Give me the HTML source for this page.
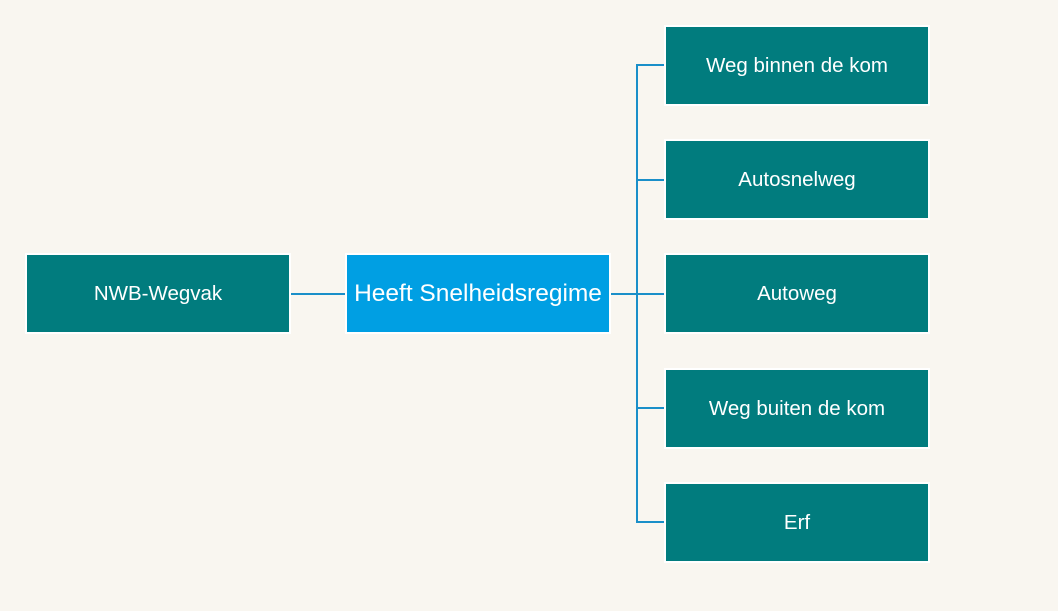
<!DOCTYPE html>
<html><head><style>
body{margin:0;width:1058px;height:611px;background:#f9f6f0;position:relative;overflow:hidden;font-family:"Liberation Sans",sans-serif}
.b{position:absolute;box-sizing:border-box;border:2px solid #fff;background:#017c7e;color:#fff;display:flex;align-items:center;justify-content:center;font-size:20.5px;width:266px;height:81px;padding-top:1px}
.l{position:absolute;background:#1a8fc9}
</style></head><body>
<div class="l" style="left:290px;top:293px;width:56px;height:2px"></div>
<div class="l" style="left:610px;top:293px;width:55px;height:2px"></div>
<div class="l" style="left:636px;top:64px;width:2px;height:459px"></div>
<div class="l" style="left:636px;top:64px;width:29px;height:2px"></div>
<div class="l" style="left:636px;top:179px;width:29px;height:2px"></div>
<div class="l" style="left:636px;top:407px;width:29px;height:2px"></div>
<div class="l" style="left:636px;top:521px;width:29px;height:2px"></div>
<div class="b" style="left:25px;top:253px">NWB-Wegvak</div>
<div class="b" style="left:345px;top:253px;background:#009fe3;font-size:24.5px">Heeft Snelheidsregime</div>
<div class="b" style="left:664px;top:25px">Weg binnen de kom</div>
<div class="b" style="left:664px;top:139px">Autosnelweg</div>
<div class="b" style="left:664px;top:253px">Autoweg</div>
<div class="b" style="left:664px;top:368px">Weg buiten de kom</div>
<div class="b" style="left:664px;top:482px">Erf</div>
</body></html>
